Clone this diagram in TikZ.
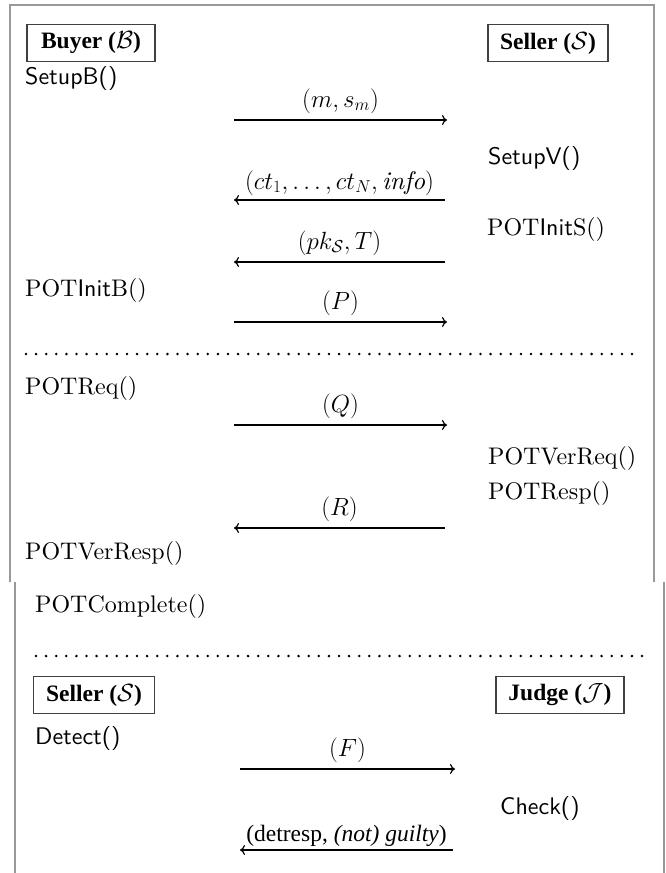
\documentclass[tikz,border=0pt]{standalone}
\usepackage{fontspec}
\usetikzlibrary{arrows.meta}
\newfontfamily\tms{Liberation Serif}
\setmainfont{lmroman10-regular.otf}[BoldFont=lmroman10-bold.otf, ItalicFont=lmroman10-italic.otf]
\setsansfont{lmsans10-regular.otf}
\begin{document}
\begin{tikzpicture}[x=1pt,y=-1pt,
  frame/.style={draw=black!40, line width=1.2pt},
  actor/.style={draw=black!75, line width=1.4pt, inner sep=4pt, minimum height=37pt,
     font=\tms\bfseries\fontsize{23.5}{27}\selectfont},
  fn/.style={anchor=west, inner sep=0pt, font=\fontsize{24}{28}\selectfont},
  msg/.style={line width=1.2pt, -{To[length=5pt,width=10pt]}},
  lbl/.style={inner sep=0pt, font=\fontsize{25.5}{29}\selectfont},
  dots/.style={line width=2.8pt, line cap=round, dash pattern=on 0pt off 10.1pt}
]
\useasboundingbox (0,0) rectangle (665,873);
% frames
\draw[frame] (10,582) -- (10,5) -- (654,5) -- (654,582);
\draw[frame] (15,582) -- (15,873);
\draw[frame] (664,582) -- (664,873);

% actors top
\node[actor, minimum width=128pt] (buyer) at (91,43) {Buyer ($\mathcal{B}$)};
\node[actor, minimum width=120pt] (seller) at (548,43) {Seller ($\mathcal{S}$)};

\node[fn] (setupb) at (25,78) {\sffamily SetupB()};
\node[fn] (setupv) at (488,158) {\sffamily SetupV()};
\node[fn] (initS) at (487,229) {POT\textsf{Init}S()};
\node[fn] (initB) at (25,290) {POT\textsf{Init}B()};

\coordinate (a1l) at (234,120); \coordinate (a1r) at (447,120);
\draw[msg] (a1l) -- node[lbl, above=6pt] (m1) {$(m, s_m)$} (a1r);
\coordinate (a2l) at (234,200); \coordinate (a2r) at (445,200);
\draw[msg] (a2r) -- node[lbl, above=4pt] (m2) {$(ct_1,\ldots,ct_N,\mathit{info})$} (a2l);
\coordinate (a3l) at (234,262); \coordinate (a3r) at (445,262);
\draw[msg] (a3r) -- node[lbl, above=6pt] (m3) {$(pk_{\mathcal{S}},T)$} (a3l);
\coordinate (a4l) at (234,322); \coordinate (a4r) at (447,322);
\draw[msg] (a4l) -- node[lbl, above=6pt] (m4) {$(P)$} (a4r);

\coordinate (d1l) at (26,354); \coordinate (d1r) at (636,354);
\draw[dots] (d1l) -- (d1r);

\node[fn] (req) at (25,388) {POTReq()};
\coordinate (a5l) at (234,425); \coordinate (a5r) at (447,425);
\draw[msg] (a5l) -- node[lbl, above=6pt] (m5) {$(Q)$} (a5r);
\node[fn] (verreq) at (488,458) {POTVerReq()};
\node[fn] (resp) at (488,493) {POTResp()};
\coordinate (a6l) at (234,528); \coordinate (a6r) at (445,528);
\draw[msg] (a6r) -- node[lbl, above=6pt] (m6) {$(R)$} (a6l);
\node[fn] (verresp) at (25,553) {POTVerResp()};

\node[fn] (complete) at (35,606) {POTComplete()};
\coordinate (d2l) at (36,656); \coordinate (d2r) at (651,656);
\draw[dots] (d2l) -- (d2r);

\node[actor, minimum width=121pt] (seller2) at (94,695) {Seller ($\mathcal{S}$)};
\node[actor, minimum width=128pt] (judge) at (560,695) {Judge ($\mathcal{J}$)};

\node[fn] (detect) at (35,738) {\sffamily Detect()};
\coordinate (a7l) at (240,769); \coordinate (a7r) at (455,769);
\draw[msg] (a7l) -- node[lbl, above=6pt] (m7) {$(F)$} (a7r);
\node[fn] (check) at (500,808) {\sffamily Check()};
\coordinate (a8l) at (240,850); \coordinate (a8r) at (453,850);
\draw[msg] (a8r) -- node[lbl, above=3pt, font=\tms\fontsize{23.5}{27}\selectfont] (m8) {(detresp, \textit{(not) guilty})} (a8l);
\end{tikzpicture}
\end{document}
